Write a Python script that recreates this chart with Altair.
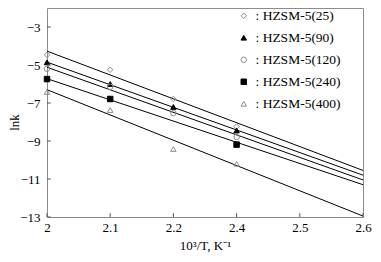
import altair as alt
import pandas as pd

tick_labels = ["2", "2.1", "2.2", "2.4", "2.5", "2.6"]
series = ["HZSM-5(25)", "HZSM-5(90)", "HZSM-5(120)", "HZSM-5(240)", "HZSM-5(400)"]

# measured points: x given as tick label, y = ln k
pts_x = {
    "HZSM-5(25)": ["2", "2.1", "2.2", "2.4"],
    "HZSM-5(90)": ["2", "2.1", "2.2", "2.4"],
    "HZSM-5(120)": ["2", "2.1", "2.2", "2.4"],
    "HZSM-5(240)": ["2", "2.1", "2.4"],
    "HZSM-5(400)": ["2", "2.1", "2.2", "2.4"],
}
pts_y = {
    "HZSM-5(25)": [-4.47, -5.25, -6.79, -8.24],
    "HZSM-5(90)": [-4.86, -6.0, -7.21, -8.45],
    "HZSM-5(120)": [-5.2, -6.15, -7.53, -8.79],
    "HZSM-5(240)": [-5.74, -6.79, -9.19],
    "HZSM-5(400)": [-6.42, -7.37, -9.42, -10.2],
}
# fitted lines: value at x="2" and x="2.6"
line_start = [-4.27, -4.85, -5.12, -5.72, -6.3]
line_end = [-10.55, -10.8, -11.05, -11.3, -12.95]

y_ticks = [-3, -5, -7, -9, -11, -13]

shapes = ["diamond", "triangle-up", "circle", "square", "triangle-up"]
strokes = ["#8c8c8c", "black", "#8c8c8c", "black", "#8c8c8c"]
fills = ["transparent", "black", "transparent", "black", "transparent"]

rows = []
for s in series:
    for xl, yv in zip(pts_x[s], pts_y[s]):
        rows.append({"series": s, "x": tick_labels.index(xl), "y": yv})
pts = pd.DataFrame(rows)

lrows = []
for s, a, b in zip(series, line_start, line_end):
    lrows.append({"series": s, "x": 0, "y": a})
    lrows.append({"series": s, "x": len(tick_labels) - 1, "y": b})
lines_df = pd.DataFrame(lrows)

label_expr = "[" + ",".join('"%s"' % t for t in tick_labels) + "][round(datum.value)]"

xscale = alt.Scale(domain=[0, 5], nice=False, zero=False)
yscale = alt.Scale(domain=[-13, -2], nice=False, zero=False)

xaxis = alt.Axis(values=list(range(6)), labelExpr=label_expr, ticks=False, domain=False,
                 grid=False, labelPadding=4, title="10³/T, K⁻¹", titleY=22,
                 titleBaseline="top", labelFlush=False)
yaxis = alt.Axis(values=y_ticks, ticks=False, domain=False, grid=False, labelPadding=7,
                 title="lnk", titleX=-33, titleY=114, titleAngle=-90,
                 titleBaseline="middle", titleAlign="center")

lines = alt.Chart(lines_df).mark_line(color="black", strokeWidth=1).encode(
    x=alt.X("x:Q", scale=xscale, axis=xaxis),
    y=alt.Y("y:Q", scale=yscale, axis=yaxis),
    detail="series:N",
)

leg = dict(title=None, orient="none", legendX=190, legendY=1,
           labelExpr="': ' + datum.label", rowPadding=7,
           labelOffset=5, padding=0, symbolSize=30)

points = alt.Chart(pts).mark_point(size=30, strokeWidth=1, opacity=1).encode(
    x=alt.X("x:Q", scale=xscale),
    y=alt.Y("y:Q", scale=yscale),
    shape=alt.Shape("series:N", scale=alt.Scale(domain=series, range=shapes),
                    legend=alt.Legend(**leg)),
    color=alt.Color("series:N", scale=alt.Scale(domain=series, range=strokes),
                    legend=alt.Legend(**leg)),
    fill=alt.Fill("series:N", scale=alt.Scale(domain=series, range=fills),
                  legend=alt.Legend(**leg)),
)

xt = pd.DataFrame({"x": list(range(6))})
yt = pd.DataFrame({"y": y_ticks})
xticks = alt.Chart(xt).mark_rule(color="#555", strokeWidth=1).encode(
    x=alt.X("x:Q", scale=xscale), y=alt.datum(-13), y2=alt.datum(-12.8))
yticks = alt.Chart(yt).mark_rule(color="#555", strokeWidth=1).encode(
    y=alt.Y("y:Q", scale=yscale), x=alt.datum(0), x2=alt.datum(0.06))

chart = alt.layer(lines, points, xticks, yticks).properties(
    width=316, height=209,
    autosize=alt.AutoSizeParams(type="none"),
    padding={"left": 39, "top": 0, "right": 10, "bottom": 37},
).configure_view(stroke="#8c8c8c", strokeWidth=1).configure_axis(
    labelFont="Liberation Serif", labelFontSize=13, labelColor="black",
    titleFont="Liberation Serif", titleFontSize=13, titleColor="black",
    titleFontWeight="normal",
).configure_legend(
    labelFont="Liberation Serif", labelFontSize=13.5, labelColor="black",
    symbolStrokeWidth=1,
)

chart.save("out.html", embed_options={"renderer": "svg", "actions": False})
